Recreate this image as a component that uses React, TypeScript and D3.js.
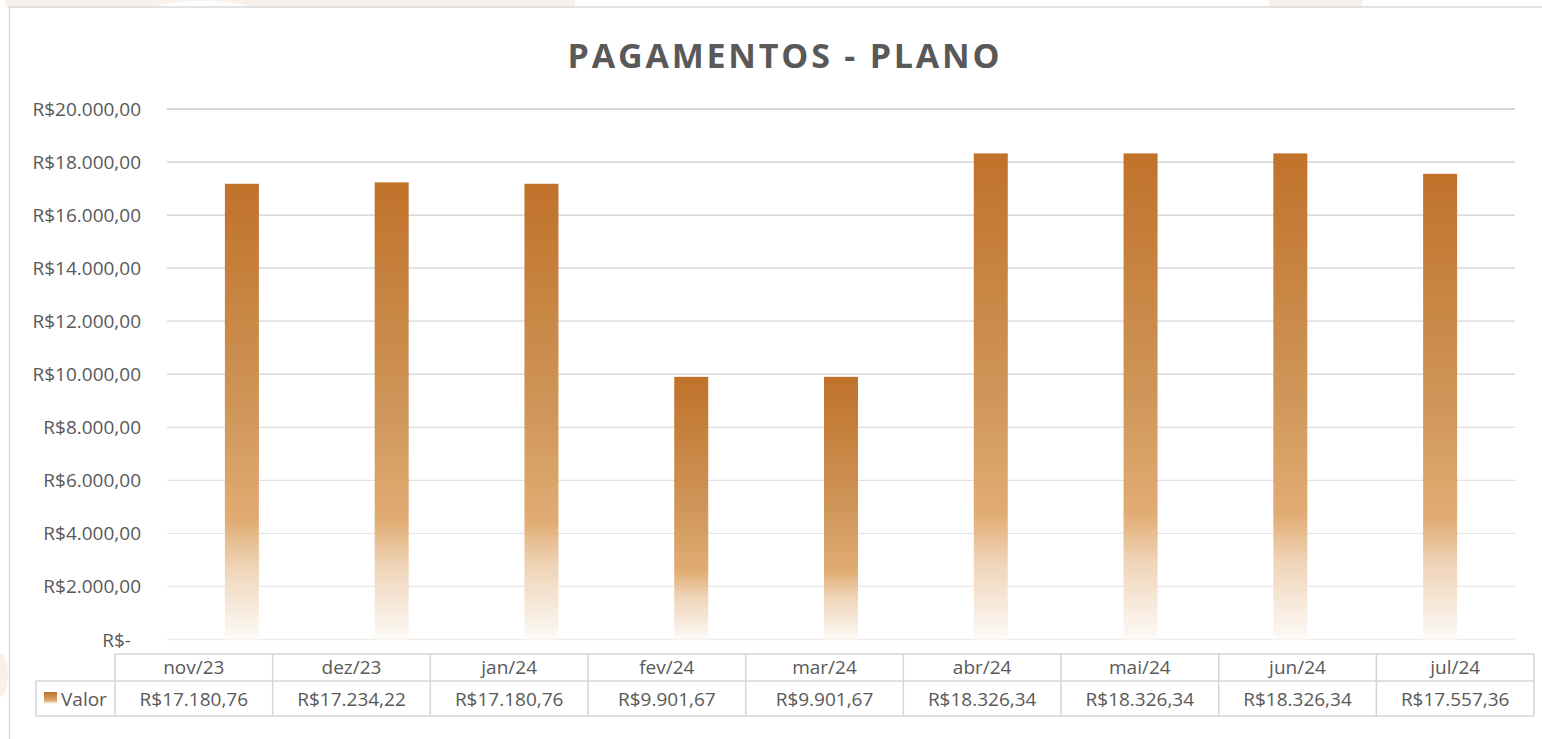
import React, { useEffect, useRef } from 'react';
import * as d3 from 'd3';

// dados do gráfico
const meses = ['nov/23', 'dez/23', 'jan/24', 'fev/24', 'mar/24', 'abr/24', 'mai/24', 'jun/24', 'jul/24'];
const valores = [17180.76, 17234.22, 17180.76, 9901.67, 9901.67, 18326.34, 18326.34, 18326.34, 17557.36];
const yTicks = [0, 2000, 4000, 6000, 8000, 10000, 12000, 14000, 16000, 18000, 20000];
const serieNome = 'Valor';
const titulo = 'PAGAMENTOS - PLANO';

const W = 1542;
const H = 739;
const FONT = '"Open Sans", "Liberation Sans", sans-serif';
const TXT = '#595959';
const FS = 19;

const brl = d3.formatLocale({
    decimal: ',',
    thousands: '.',
    grouping: [3],
    currency: ['R$', ''],
});
const fmtMoeda = (v: number) => (v === 0 ? 'R$-' : brl.format('$,.2f')(v));

const App: React.FC = () => {
    const svgRef = useRef<SVGSVGElement>(null);

    useEffect(() => {
        if (!svgRef.current) return;
        const svg = d3.select(svgRef.current);
        svg.selectAll('*').remove();

        const plot = { left: 167, right: 1515, top: 109, bottom: 639.5 };
        const tabela = { left: 115, right: 1534, top: 654, mid: 681, bottom: 716, legendLeft: 36 };

        const defs = svg.append('defs');
        const grad = defs
            .append('linearGradient')
            .attr('id', 'barGrad')
            .attr('x1', 0)
            .attr('y1', 0)
            .attr('x2', 0)
            .attr('y2', 1);
        [
            [0, '#c0722a'],
            [0.5, '#cf9659'],
            [0.74, '#e1ac73'],
            [0.84, '#efd4b8'],
            [1, '#fdfaf7'],
        ].forEach(([o, c]) => grad.append('stop').attr('offset', o as number).attr('stop-color', c as string));

        // fundo
        svg.append('rect').attr('width', W).attr('height', H).attr('fill', '#ffffff');

        // marcas d'água suaves fora da área do gráfico
        const wm = svg.append('g').attr('fill', '#f8f0eb');
        wm.append('rect').attr('x', 5).attr('y', 0).attr('width', 570).attr('height', 7);
        wm.append('ellipse').attr('cx', 202).attr('cy', 12).attr('rx', 55).attr('ry', 11).attr('fill', '#ffffff');
        wm.append('rect').attr('x', 1269).attr('y', 0).attr('width', 93).attr('height', 7);
        wm.append('ellipse').attr('cx', 0).attr('cy', 675).attr('rx', 8).attr('ry', 22);

        // borda do gráfico
        svg.append('path')
            .attr('d', `M9.5,${H} L9.5,7 L${W},7`)
            .attr('fill', 'none')
            .attr('stroke', '#d9d9d9')
            .attr('stroke-width', 1.5);

        // título
        svg.append('text')
            .attr('x', 785)
            .attr('y', 68)
            .attr('text-anchor', 'middle')
            .attr('font-family', FONT)
            .attr('font-weight', 700)
            .attr('font-size', 34)
            .attr('letter-spacing', 2.8)
            .attr('fill', TXT)
            .text(titulo);

        const y = d3.scaleLinear().domain([0, 20000]).range([plot.bottom, plot.top]);
        const x = d3.scaleBand().domain(meses).range([plot.left, plot.right]).padding(0);
        const barW = x.bandwidth() * 0.227;

        // linhas de grade
        const gridCor = d3.interpolateRgb('#ececec', '#c8c8c8');
        svg.append('g')
            .selectAll('line')
            .data(yTicks)
            .join('line')
            .attr('x1', plot.left)
            .attr('x2', plot.right)
            .attr('y1', (d) => y(d))
            .attr('y2', (d) => y(d))
            .attr('stroke', (d) => gridCor(d / 20000))
            .attr('stroke-width', 1.3);

        // rótulos do eixo Y
        svg.append('g')
            .selectAll('text')
            .data(yTicks)
            .join('text')
            .attr('x', (d) => (d === 0 ? 131 : 141))
            .attr('y', (d) => y(d) + 7)
            .attr('text-anchor', 'end')
            .attr('font-family', FONT)
            .attr('font-size', FS)
            .attr('fill', TXT)
            .text((d) => fmtMoeda(d));

        // barras
        svg.append('g')
            .selectAll('rect')
            .data(valores)
            .join('rect')
            .attr('x', (_, i) => (x(meses[i]) as number) + (x.bandwidth() - barW) / 2)
            .attr('y', (d) => y(d))
            .attr('width', barW)
            .attr('height', (d) => y(0) - y(d))
            .attr('fill', 'url(#barGrad)');

        // tabela de dados
        const tx = d3.scaleBand().domain(meses).range([tabela.left, tabela.right]).padding(0);
        const tg = svg.append('g');
        const borda = { stroke: '#d6d6d6', width: 1.5 };
        const linha = (x1: number, y1: number, x2: number, y2: number) =>
            tg.append('line')
                .attr('x1', x1)
                .attr('y1', y1)
                .attr('x2', x2)
                .attr('y2', y2)
                .attr('stroke', borda.stroke)
                .attr('stroke-width', borda.width);

        linha(tabela.left, tabela.top, tabela.right, tabela.top);
        linha(tabela.legendLeft, tabela.mid, tabela.right, tabela.mid);
        linha(tabela.legendLeft, tabela.bottom, tabela.right, tabela.bottom);
        linha(tabela.legendLeft, tabela.mid, tabela.legendLeft, tabela.bottom);
        meses.forEach((m) => {
            const x0 = tx(m) as number;
            linha(x0, tabela.top, x0, tabela.bottom);
        });
        linha(tabela.right, tabela.top, tabela.right, tabela.bottom);

        tg.selectAll('text.cat')
            .data(meses)
            .join('text')
            .attr('class', 'cat')
            .attr('x', (d) => (tx(d) as number) + tx.bandwidth() / 2)
            .attr('y', 674)
            .attr('text-anchor', 'middle')
            .attr('font-family', FONT)
            .attr('font-size', FS)
            .attr('fill', TXT)
            .text((d) => d);

        tg.selectAll('text.val')
            .data(valores)
            .join('text')
            .attr('class', 'val')
            .attr('x', (_, i) => (tx(meses[i]) as number) + tx.bandwidth() / 2)
            .attr('y', 706)
            .attr('text-anchor', 'middle')
            .attr('font-family', FONT)
            .attr('font-size', FS)
            .attr('fill', TXT)
            .text((d) => fmtMoeda(d));

        // legenda
        tg.append('rect')
            .attr('x', 44)
            .attr('y', 692)
            .attr('width', 13)
            .attr('height', 12)
            .attr('fill', 'url(#barGrad)');
        tg.append('text')
            .attr('x', 61)
            .attr('y', 706)
            .attr('font-family', FONT)
            .attr('font-size', FS)
            .attr('fill', TXT)
            .text(serieNome);
    }, []);

    return (
        <svg
            ref={svgRef}
            width={W}
            height={H}
            style={{ position: 'absolute', left: 0, top: 0, display: 'block' }}
        />
    );
};

export default App;
